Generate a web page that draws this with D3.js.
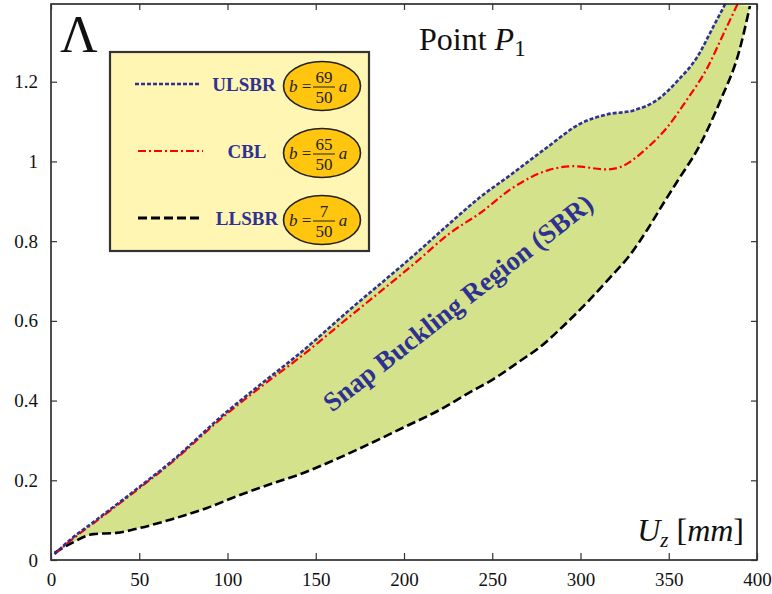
<!DOCTYPE html>
<html>
<head>
<meta charset="utf-8">
<script src="https://cdn.jsdelivr.net/npm/d3@7"></script>
<style>
  body { margin: 0; background: #fff; }
  svg text { font-family: "Liberation Serif", "Times New Roman", serif; }
</style>
</head>
<body>
<div id="chart"></div>
<script>
// ---- data ----
let xTicks = [0, 50, 100, 150, 200, 250, 300, 350, 400]
let yTicks = [0, 0.2, 0.4, 0.6, 0.8, 1, 1.2]

// ULSBR (b = 69/50 a)
let ulsbrX = [2, 12, 24, 50, 69, 97, 122, 140, 169, 207, 226, 243, 260, 281, 300, 315, 330, 343, 356, 366, 375, 382]
let ulsbrY = [0.015, 0.055, 0.095, 0.183, 0.25, 0.362, 0.452, 0.515, 0.627, 0.77, 0.845, 0.91, 0.965, 1.035, 1.095, 1.118, 1.128, 1.153, 1.207, 1.261, 1.336, 1.395]

// CBL (b = 65/50 a)
let cblX = [2, 12, 24, 50, 69, 97, 122, 140, 169, 207, 226, 243, 262, 281, 296, 315, 322, 338, 349, 360, 372, 381, 389]
let cblY = [0.015, 0.052, 0.092, 0.18, 0.247, 0.357, 0.445, 0.505, 0.61, 0.748, 0.82, 0.87, 0.935, 0.977, 0.988, 0.98, 0.985, 1.035, 1.085, 1.153, 1.236, 1.32, 1.395]

// LLSBR (b = 7/50 a)
let llsbrX = [2, 12, 24, 37, 50, 69, 88, 107, 126, 141, 160, 175, 200, 220, 237, 250, 266, 277, 290, 305, 316, 328, 338, 347, 356, 366, 379, 390, 396]
let llsbrY = [0.018, 0.043, 0.065, 0.068, 0.08, 0.103, 0.13, 0.163, 0.193, 0.215, 0.25, 0.28, 0.333, 0.376, 0.42, 0.452, 0.5, 0.534, 0.586, 0.652, 0.705, 0.765, 0.83, 0.895, 0.958, 1.028, 1.15, 1.278, 1.39]

let legendNames = ["ULSBR", "CBL", "LLSBR"]
let legendNum = ["69", "65", "7"]
let legendDen = ["50", "50", "50"]

// ---- layout ----
let width = 772, height = 594
let plot = {left: 51, right: 757, top: 4, bottom: 560}
let serif = "Liberation Serif, Times New Roman, serif"

let svg = d3.select("#chart").append("svg")
    .attr("width", width)
    .attr("height", height)
    .attr("font-family", serif)

let x = d3.scaleLinear().domain([0, 400]).range([plot.left, plot.right])
let y = d3.scaleLinear().domain([0, 1.395]).range([plot.bottom, plot.top])

svg.append("clipPath").attr("id", "clip")
    .append("rect")
    .attr("x", plot.left).attr("y", plot.top)
    .attr("width", plot.right - plot.left).attr("height", plot.bottom - plot.top)

let zip = (xs, ys) => xs.map((v, i) => [v, ys[i]])
let upper = zip(ulsbrX, ulsbrY)
let mid = zip(cblX, cblY)
let lower = zip(llsbrX, llsbrY)

let line = d3.line()
    .x(d => x(d[0]))
    .y(d => y(d[1]))
    .curve(d3.curveMonotoneX)

let lineRev = d3.line()
    .x(d => x(d[0]))
    .y(d => y(d[1]))
    .curve(d3.curveCatmullRom)

let g = svg.append("g").attr("clip-path", "url(#clip)")

// shaded snap buckling region
let regionPath = line(upper) + lineRev(lower.slice().reverse()).replace(/^M/, "L") + "Z"
g.append("path")
    .attr("d", regionPath)
    .attr("fill", "#d4e38b")
    .attr("stroke", "none")

g.append("path").attr("d", line(lower))
    .attr("fill", "none").attr("stroke", "#000")
    .attr("stroke-width", 2.6).attr("stroke-dasharray", "9,4")

g.append("path").attr("d", line(mid))
    .attr("fill", "none").attr("stroke", "#ff0000")
    .attr("stroke-width", 2.2).attr("stroke-dasharray", "8,3,2,3")

g.append("path").attr("d", line(upper))
    .attr("fill", "none").attr("stroke", "#2e3192")
    .attr("stroke-width", 2.6).attr("stroke-dasharray", "4,2")

// frame with inward ticks on all sides
svg.append("rect")
    .attr("x", plot.left).attr("y", plot.top)
    .attr("width", plot.right - plot.left).attr("height", plot.bottom - plot.top)
    .attr("fill", "none").attr("stroke", "#222").attr("stroke-width", 1.6)

let bottomAxis = svg.append("g")
    .attr("transform", "translate(0," + plot.bottom + ")")
    .call(d3.axisBottom(x).tickValues(xTicks).tickSize(-7).tickPadding(13).tickFormat(d3.format("d")))
let topAxis = svg.append("g")
    .attr("transform", "translate(0," + plot.top + ")")
    .call(d3.axisTop(x).tickValues(xTicks).tickSize(-6).tickFormat(""))
let leftAxis = svg.append("g")
    .attr("transform", "translate(" + plot.left + ",0)")
    .call(d3.axisLeft(y).tickValues(yTicks).tickSize(-6).tickPadding(13).tickFormat(d => d === 0 || d === 1 ? d3.format("d")(d) : d3.format(".1f")(d)))
let rightAxis = svg.append("g")
    .attr("transform", "translate(" + plot.right + ",0)")
    .call(d3.axisRight(y).tickValues(yTicks).tickSize(-6).tickFormat(""))

;[bottomAxis, topAxis, leftAxis, rightAxis].forEach(a => {
    a.attr("font-family", serif).attr("font-size", 19)
    a.select(".domain").remove()
    a.selectAll("line").attr("stroke", "#333").attr("stroke-width", 1.2)
    a.selectAll("text").attr("fill", "#111")
})

// region label
svg.append("text")
    .attr("transform", "translate(458,303) rotate(-38)")
    .attr("text-anchor", "middle")
    .attr("dominant-baseline", "central")
    .attr("fill", "#2e3192")
    .attr("font-size", 27)
    .attr("font-weight", "bold")
    .text("Snap Buckling Region (SBR)")

// lambda
svg.append("text")
    .attr("x", 60).attr("y", 52)
    .attr("font-size", 52)
    .attr("fill", "#111")
    .text("Λ")

// point label
let pt = svg.append("text")
    .attr("x", 419).attr("y", 50)
    .attr("font-size", 32)
    .attr("fill", "#111")
pt.append("tspan").text("Point ")
pt.append("tspan").attr("font-style", "italic").text("P")
pt.append("tspan").attr("dy", 6).attr("font-size", 23).text("1")

// x axis title
let xt = svg.append("text")
    .attr("x", 744).attr("y", 541)
    .attr("text-anchor", "end")
    .attr("font-size", 32)
    .attr("fill", "#111")
xt.append("tspan").attr("font-style", "italic").text("U")
xt.append("tspan").attr("dy", 6).attr("font-size", 21).attr("font-style", "italic").text("z")
xt.append("tspan").attr("dy", -6).text(" [")
xt.append("tspan").attr("font-style", "italic").text("mm")
xt.append("tspan").text("]")

// legend
let legend = svg.append("g")
legend.append("rect")
    .attr("x", 110).attr("y", 52)
    .attr("width", 259).attr("height", 199)
    .attr("fill", "#fff6b3")
    .attr("stroke", "#333").attr("stroke-width", 2.2)

let legendStyles = [
    {color: "#2e3192", dash: "4,2", w: 2.6, x1: 135, x2: 200, label: 244},
    {color: "#ff0000", dash: "8,3,2,3", w: 2.2, x1: 138, x2: 203, label: 247},
    {color: "#000", dash: "9,4", w: 2.8, x1: 138, x2: 203, label: 247}
]
let rowY = d3.scalePoint().domain(legendNames).range([86, 220])

legendNames.forEach(function(name, i) {
    let cy = rowY(name)
    let s = legendStyles[i]
    legend.append("line")
        .attr("x1", s.x1).attr("x2", s.x2)
        .attr("y1", cy - 2).attr("y2", cy - 2)
        .attr("stroke", s.color).attr("stroke-width", s.w)
        .attr("stroke-dasharray", s.dash)
    legend.append("text")
        .attr("x", s.label).attr("y", cy + 5)
        .attr("text-anchor", "middle")
        .attr("fill", "#2e3192")
        .attr("font-size", 19)
        .attr("font-weight", "bold")
        .text(name)

    let cx = 322
    legend.append("ellipse")
        .attr("cx", cx).attr("cy", cy)
        .attr("rx", 38.5).attr("ry", 24.5)
        .attr("fill", "#ffc50f")
        .attr("stroke", "#222").attr("stroke-width", 1.6)
    let lhs = legend.append("text")
        .attr("x", cx - 33).attr("y", cy + 6)
        .attr("fill", "#222")
        .attr("font-size", 17)
    lhs.append("tspan").attr("font-style", "italic").text("b")
    lhs.append("tspan").text(" =")
    legend.append("line")
        .attr("x1", cx - 9).attr("x2", cx + 13)
        .attr("y1", cy + 1).attr("y2", cy + 1)
        .attr("stroke", "#222").attr("stroke-width", 1)
    legend.append("text")
        .attr("x", cx + 2).attr("y", cy - 3)
        .attr("text-anchor", "middle")
        .attr("fill", "#222")
        .attr("font-size", 17)
        .text(legendNum[i])
    legend.append("text")
        .attr("x", cx + 2).attr("y", cy + 17)
        .attr("text-anchor", "middle")
        .attr("fill", "#222")
        .attr("font-size", 17)
        .text(legendDen[i])
    legend.append("text")
        .attr("x", cx + 21).attr("y", cy + 6)
        .attr("text-anchor", "middle")
        .attr("fill", "#222")
        .attr("font-size", 17)
        .attr("font-style", "italic")
        .text("a")
})
</script>
</body>
</html>
